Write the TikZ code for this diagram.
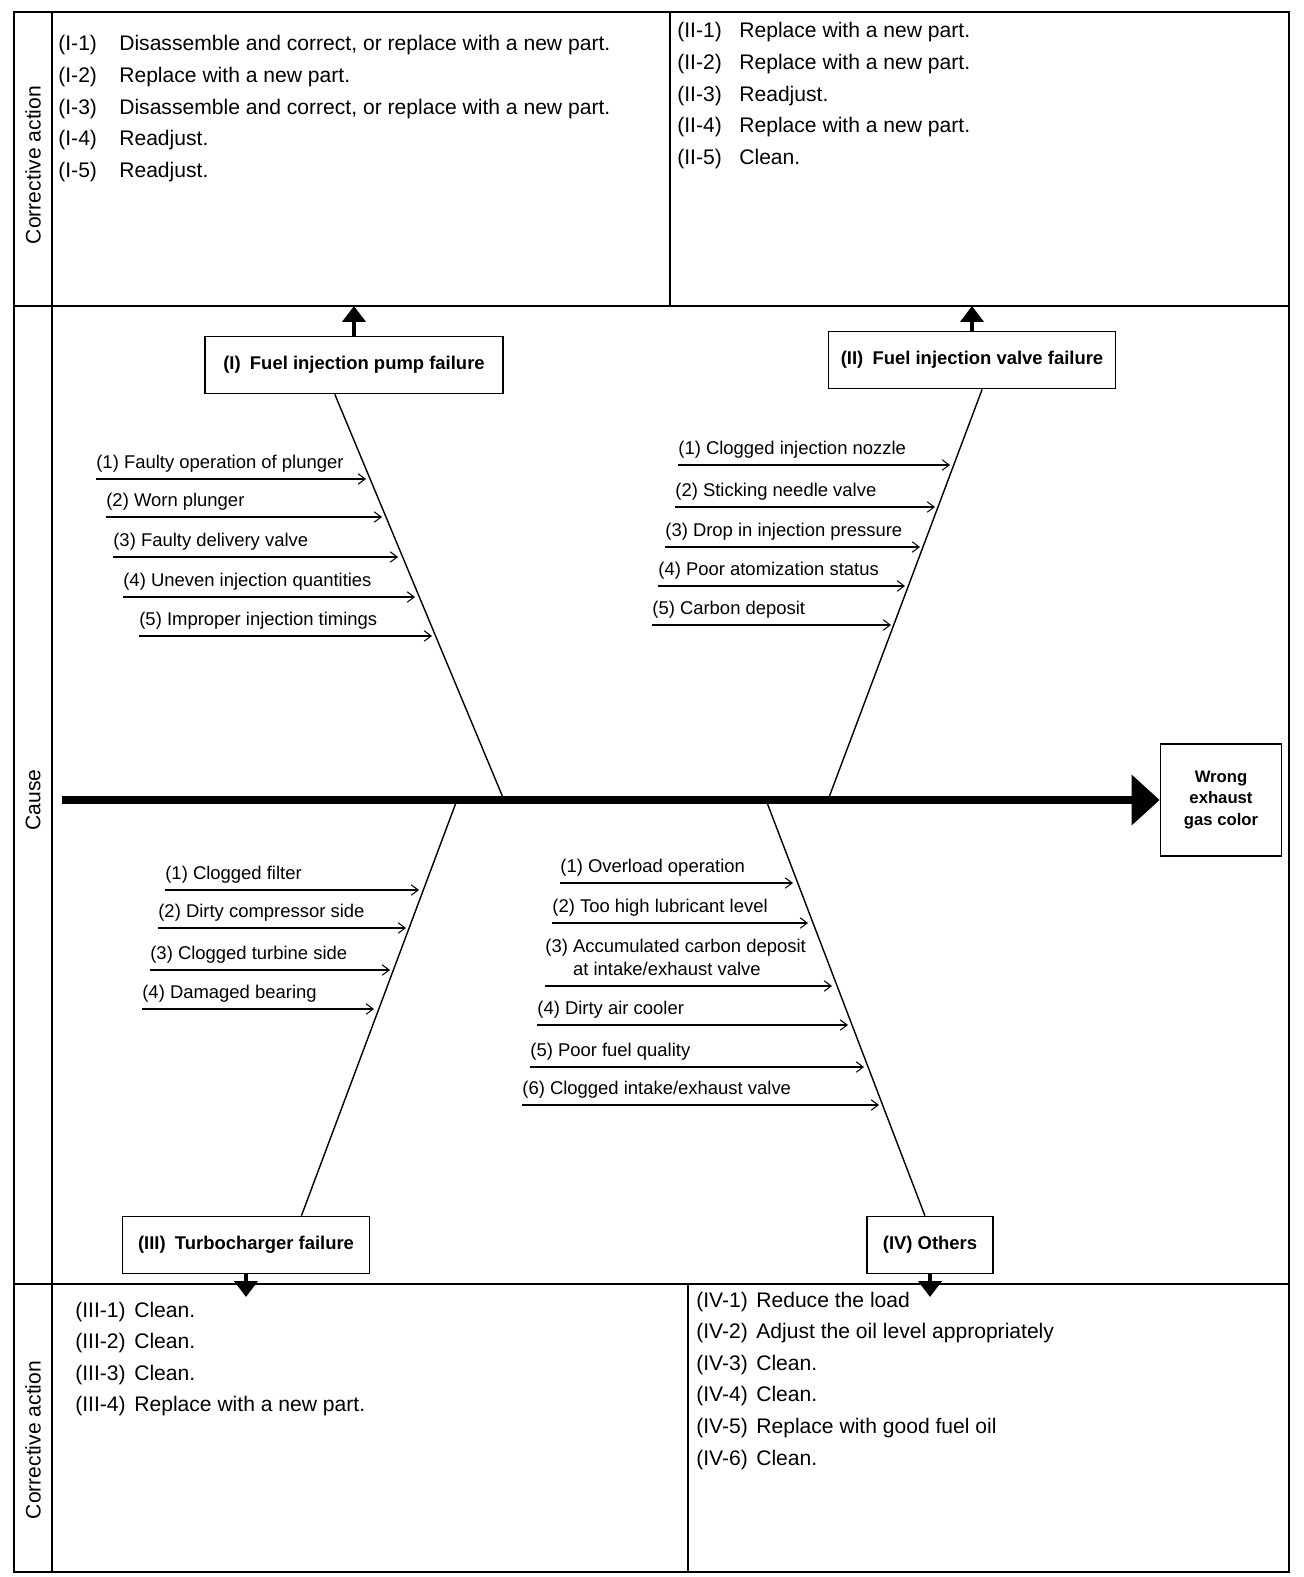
\documentclass[tikz,border=0pt]{standalone}
\usepackage{fontspec}
\setmainfont{Liberation Sans}
\usepackage{tikz}
\usetikzlibrary{arrows.meta,positioning,calc}

\begin{document}
\begin{tikzpicture}[x=0.02cm, y=-0.02cm,
        frame/.style={line width=1.2pt},
        catbox/.style={rectangle, draw, line width=1pt, minimum height=1.14cm, inner sep=2pt, font=\bfseries\fontsize{10.5}{12}\selectfont},
        effectbox/.style={rectangle, draw, line width=1pt, minimum width=2.42cm, minimum height=2.24cm, align=center, font=\bfseries\fontsize{9.5}{12.5}\selectfont},
        actions/.style={anchor=base west, inner sep=0pt, font=\fontsize{12}{18}\selectfont},
        sidelabel/.style={rotate=90, font=\fontsize{12}{14}\selectfont},
        cause/.style={anchor=south west, inner xsep=0pt, inner ysep=0.2cm, text depth=0pt, font=\fontsize{10.5}{13}\selectfont},
        bone/.style={line width=0.8pt},
        twig/.style={-{Straight Barb[length=4pt,width=6pt]}, line width=0.6pt},
        lift/.style={-{Triangle[length=9pt,width=13pt]}, line width=2.5pt},
        spine/.style={-{Triangle[length=16pt,width=28pt]}, line width=4.5pt}]

        \useasboundingbox (0,0) rectangle (1303,1577);

        \draw[frame] (14,12) rectangle (1289,1572);
        \draw[frame] (52,12) -- (52,1572);
        \draw[frame] (14,306) -- (1289,306);
        \draw[frame] (14,1284) -- (1289,1284);
        \draw[frame] (670,12) -- (670,306);
        \draw[frame] (688,1284) -- (688,1572);

        \node[sidelabel] (sideT) at (33,165) {Corrective action};
        \node[sidelabel] (sideM) at (33,800) {Cause};
        \node[sidelabel] (sideB) at (33,1440) {Corrective action};

        \node[actions] (actI) at (58,51) {\begin{tabular}[t]{@{}p{1.22cm}@{}l@{}}
            (I-1) & Disassemble and correct, or replace with a new part.\\
            (I-2) & Replace with a new part.\\
            (I-3) & Disassemble and correct, or replace with a new part.\\
            (I-4) & Readjust.\\
            (I-5) & Readjust.
        \end{tabular}};
        \node[actions] (actII) at (677,38) {\begin{tabular}[t]{@{}p{1.24cm}@{}l@{}}
            (II-1) & Replace with a new part.\\
            (II-2) & Replace with a new part.\\
            (II-3) & Readjust.\\
            (II-4) & Replace with a new part.\\
            (II-5) & Clean.
        \end{tabular}};
        \node[actions] (actIII) at (75,1317) {\begin{tabular}[t]{@{}p{1.18cm}@{}l@{}}
            (III-1) & Clean.\\
            (III-2) & Clean.\\
            (III-3) & Clean.\\
            (III-4) & Replace with a new part.
        \end{tabular}};
        \node[actions] (actIV) at (696,1307) {\begin{tabular}[t]{@{}p{1.2cm}@{}l@{}}
            (IV-1) & Reduce the load\\
            (IV-2) & Adjust the oil level appropriately\\
            (IV-3) & Clean.\\
            (IV-4) & Clean.\\
            (IV-5) & Replace with good fuel oil\\
            (IV-6) & Clean.
        \end{tabular}};

        \node[catbox, minimum width=5.96cm] (catI) at (354,365) {(I)\enspace Fuel injection pump failure};
        \node[catbox, minimum width=5.74cm] (catII) at (972,360) {(II)\enspace Fuel injection valve failure};
        \node[catbox, minimum width=4.94cm] (catIII) at (246,1245) {(III)\enspace Turbocharger failure};
        \node[catbox, minimum width=2.52cm] (catIV) at (930,1245) {(IV) Others};
        \node[effectbox] (effect) at (1221,800) {Wrong\\exhaust\\gas color};

        \coordinate (tail) at (62,800);
        \draw[spine] (tail) -- (effect.west);

        \coordinate (jI) at (504,800);
        \coordinate (jII) at (828,800);
        \coordinate (jIII) at (457,800);
        \coordinate (jIV) at (766,800);
        \coordinate (rI) at ($(catI.south west)!0.436!(catI.south east)$);
        \coordinate (rII) at ($(catII.south west)!0.535!(catII.south east)$);
        \coordinate (rIII) at ($(catIII.north west)!0.723!(catIII.north east)$);
        \coordinate (rIV) at ($(catIV.north west)!0.46!(catIV.north east)$);
        \draw[bone] (rI) -- (jI);
        \draw[bone] (rII) -- (jII);
        \draw[bone] (rIII) -- (jIII);
        \draw[bone] (rIV) -- (jIV);

        \coordinate (sepT) at (0,306);
        \coordinate (tipB) at (0,1297);
        \draw[lift] (catI.north) -- (catI.north |- sepT);
        \draw[lift] (catII.north) -- (catII.north |- sepT);
        \draw[lift] (catIII.south) -- (catIII.south |- tipB);
        \draw[lift] (catIV.south) -- (catIV.south |- tipB);

        \node[cause] (c11) at (96,479) {(1) Faulty operation of plunger};
        \node[cause] (c12) at (106,517) {(2) Worn plunger};
        \node[cause] (c13) at (113,557) {(3) Faulty delivery valve};
        \node[cause] (c14) at (123,597) {(4) Uneven injection quantities};
        \node[cause] (c15) at (139,636) {(5) Improper injection timings};
        \coordinate (e11) at (366,479);
        \coordinate (e12) at (382,517);
        \coordinate (e13) at (398,557);
        \coordinate (e14) at (415,597);
        \coordinate (e15) at (432,636);
        \draw[twig] (c11.south west) -- (e11);
        \draw[twig] (c12.south west) -- (e12);
        \draw[twig] (c13.south west) -- (e13);
        \draw[twig] (c14.south west) -- (e14);
        \draw[twig] (c15.south west) -- (e15);

        \node[cause] (c21) at (678,465) {(1) Clogged injection nozzle};
        \node[cause] (c22) at (675,507) {(2) Sticking needle valve};
        \node[cause] (c23) at (665,547) {(3) Drop in injection pressure};
        \node[cause] (c24) at (658,586) {(4) Poor atomization status};
        \node[cause] (c25) at (652,625) {(5) Carbon deposit};
        \coordinate (e21) at (950,465);
        \coordinate (e22) at (935,507);
        \coordinate (e23) at (920,547);
        \coordinate (e24) at (905,586);
        \coordinate (e25) at (891,625);
        \draw[twig] (c21.south west) -- (e21);
        \draw[twig] (c22.south west) -- (e22);
        \draw[twig] (c23.south west) -- (e23);
        \draw[twig] (c24.south west) -- (e24);
        \draw[twig] (c25.south west) -- (e25);

        \node[cause] (c31) at (165,890) {(1) Clogged filter};
        \node[cause] (c32) at (158,928) {(2) Dirty compressor side};
        \node[cause] (c33) at (150,970) {(3) Clogged turbine side};
        \node[cause] (c34) at (142,1009) {(4) Damaged bearing};
        \coordinate (e31) at (419,890);
        \coordinate (e32) at (406,928);
        \coordinate (e33) at (390,970);
        \coordinate (e34) at (374,1009);
        \draw[twig] (c31.south west) -- (e31);
        \draw[twig] (c32.south west) -- (e32);
        \draw[twig] (c33.south west) -- (e33);
        \draw[twig] (c34.south west) -- (e34);

        \node[cause] (c41) at (560,883) {(1) Overload operation};
        \node[cause] (c42) at (552,923) {(2) Too high lubricant level};
        \node[cause] (c43) at (545,986) {\begin{tabular}[b]{@{}l@{}}(3) Accumulated carbon deposit\\\hphantom{(3) }at intake/exhaust valve\end{tabular}};
        \node[cause] (c44) at (537,1025) {(4) Dirty air cooler};
        \node[cause] (c45) at (530,1067) {(5) Poor fuel quality};
        \node[cause] (c46) at (522,1105) {(6) Clogged intake/exhaust valve};
        \coordinate (e41) at (793,883);
        \coordinate (e42) at (808,923);
        \coordinate (e43) at (832,986);
        \coordinate (e44) at (848,1025);
        \coordinate (e45) at (864,1067);
        \coordinate (e46) at (879,1105);
        \draw[twig] (c41.south west) -- (e41);
        \draw[twig] (c42.south west) -- (e42);
        \draw[twig] (c43.south west) -- (e43);
        \draw[twig] (c44.south west) -- (e44);
        \draw[twig] (c45.south west) -- (e45);
        \draw[twig] (c46.south west) -- (e46);

    \end{tikzpicture}
\end{document}
